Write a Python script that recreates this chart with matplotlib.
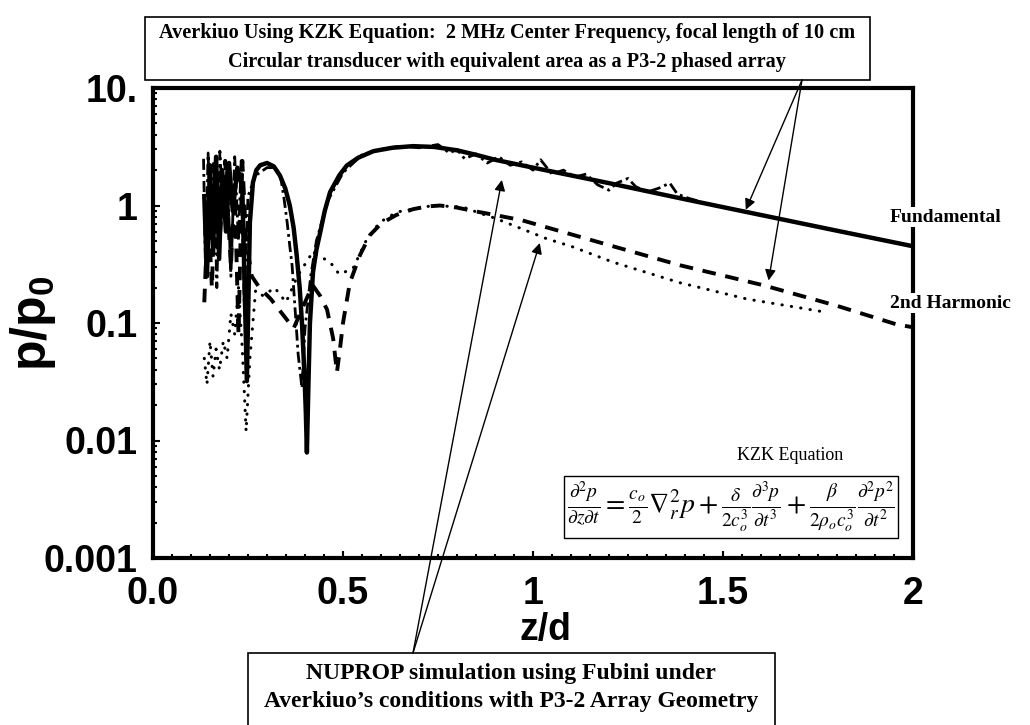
import matplotlib
matplotlib.use('Agg')
import matplotlib.pyplot as plt
from matplotlib.patches import Rectangle
from matplotlib.ticker import MultipleLocator, LogLocator, NullFormatter

plt.rcParams['font.family'] = ['Liberation Sans', 'DejaVu Sans']
plt.rcParams['mathtext.fontset'] = 'custom'
plt.rcParams['mathtext.rm'] = 'Liberation Sans:bold'
plt.rcParams['mathtext.it'] = 'Liberation Sans:bold'
plt.rcParams['mathtext.bf'] = 'Liberation Sans:bold'

# Averkiuo KZK, fundamental (solid)
kzk_fund_x = [0.135, 0.142, 0.150, 0.158, 0.166, 0.174, 0.182, 0.192, 0.200, 0.210,
              0.222, 0.235, 0.247, 0.255, 0.263, 0.272, 0.282, 0.300, 0.318, 0.334,
              0.348, 0.360, 0.370, 0.378, 0.386, 0.392, 0.398, 0.402, 0.405, 0.409,
              0.413, 0.421, 0.430, 0.440, 0.452, 0.466, 0.490, 0.510, 0.540, 0.580,
              0.630, 0.684, 0.740, 0.800, 0.850, 0.900, 1.000, 1.200, 1.400, 1.600,
              1.800, 2.000]
kzk_fund_y = [1.2, 0.25, 2.2, 0.4, 2.6, 0.35, 2.0, 0.6, 2.3, 0.9,
              2.1, 1.4, 0.032, 0.72, 1.57, 2.0, 2.2, 2.3, 2.15, 1.8,
              1.4, 1.0, 0.65, 0.38, 0.2, 0.10, 0.04, 0.018, 0.0079, 0.03,
              0.10, 0.27, 0.42, 0.59, 0.9, 1.3, 1.8, 2.19, 2.55, 2.9,
              3.1, 3.2, 3.15, 2.95, 2.7, 2.45, 2.1, 1.55, 1.13, 0.83,
              0.61, 0.45]

# Averkiuo KZK, 2nd harmonic (dashed)
kzk_harm_x = [0.135, 0.145, 0.155, 0.165, 0.175, 0.190, 0.205, 0.215, 0.225, 0.235,
              0.245, 0.260, 0.280, 0.310, 0.340, 0.370, 0.400, 0.420, 0.440, 0.458,
              0.474, 0.484, 0.492, 0.500, 0.518, 0.545, 0.571, 0.600, 0.640, 0.684,
              0.720, 0.755, 0.800, 0.834, 0.900, 0.970, 1.200, 1.387, 1.605, 1.800,
              1.958, 2.000]
kzk_harm_y = [0.15, 1.0, 0.2, 2.0, 0.5, 2.4, 0.3, 1.5, 0.08, 2.4,
              0.5, 0.25, 0.2, 0.16, 0.12, 0.09, 0.15, 0.21, 0.17, 0.13,
              0.074, 0.038, 0.06, 0.10, 0.22, 0.38, 0.56, 0.70, 0.83, 0.93,
              0.98, 1.0, 0.96, 0.91, 0.83, 0.75, 0.46, 0.31, 0.21, 0.14,
              0.097, 0.092]

# NUPROP, fundamental (noisy dash-dot)
nup_fund_x = [0.133, 0.138, 0.145, 0.152, 0.160, 0.168, 0.176, 0.185, 0.195, 0.205,
              0.215, 0.225, 0.232, 0.240, 0.250, 0.270, 0.300, 0.318, 0.334, 0.344,
              0.353, 0.360, 0.366, 0.374, 0.382, 0.392, 0.400, 0.415, 0.430, 0.460,
              0.500, 0.550, 0.600, 0.650, 0.700, 0.750, 0.780, 0.800, 0.820, 0.850,
              0.880, 0.910, 0.940, 0.970, 1.000, 1.020, 1.050, 1.080, 1.110, 1.140,
              1.170, 1.200, 1.220, 1.250, 1.270, 1.300, 1.330, 1.360, 1.380, 1.410,
              1.440]
nup_fund_y = [2.5, 0.3, 2.8, 0.5, 2.4, 0.2, 2.9, 0.8, 2.2, 0.25,
              2.6, 0.5, 2.4, 0.15, 1.2, 1.8, 2.1, 2.1, 1.9, 1.2,
              0.72, 0.45, 0.31, 0.13, 0.054, 0.028, 0.09, 0.25, 0.5, 1.1,
              1.9, 2.7, 3.0, 3.2, 3.1, 3.3, 2.8, 3.0, 2.5, 2.75,
              2.3, 2.6, 2.2, 2.35, 2.0, 2.45, 1.85, 2.0, 1.75, 1.85,
              1.5, 1.35, 1.55, 1.7, 1.45, 1.3, 1.4, 1.55, 1.25, 1.15,
              1.08]

# NUPROP, 2nd harmonic (dotted)
nup_harm_x = [0.135, 0.142, 0.150, 0.158, 0.166, 0.175, 0.185, 0.195, 0.205, 0.215,
              0.225, 0.235, 0.245, 0.255, 0.270, 0.290, 0.320, 0.350, 0.380, 0.420,
              0.466, 0.490, 0.526, 0.563, 0.597, 0.642, 0.737, 0.816, 0.860, 0.900,
              1.037, 1.100, 1.210, 1.387, 1.563, 1.755]
nup_harm_y = [0.05, 0.03, 0.07, 0.035, 0.06, 0.04, 0.07, 0.05, 0.12, 0.08,
              0.2, 0.06, 0.012, 0.05, 0.19, 0.17, 0.2, 0.15, 0.25, 0.40,
              0.33, 0.26, 0.29, 0.52, 0.72, 0.88, 1.0, 0.97, 0.86, 0.78,
              0.52, 0.45, 0.33, 0.22, 0.16, 0.126]

x_ticks = [0.0, 0.5, 1.0, 1.5, 2.0]
x_tick_labels = ['0.0', '0.5', '1', '1.5', '2']
y_ticks = [0.001, 0.01, 0.1, 1, 10]
y_tick_labels = ['0.001', '0.01', '0.1', '1', '10.']

top_lines = ['Averkiuo Using KZK Equation:  2 MHz Center Frequency, focal length of 10 cm',
             'Circular transducer with equivalent area as a P3-2 phased array']
bottom_lines = ['NUPROP simulation using Fubini under',
                'Averkiuo\u2019s conditions with P3-2 Array Geometry']

W, H = 1030, 725
fig = plt.figure(figsize=(W / 100, H / 100), dpi=100)


def fx(px):
    return px / W


def fy(py):
    return 1 - py / H


ax = fig.add_axes([fx(153), fy(558), (913 - 153) / W, (558 - 88) / H])
ax.set_yscale('log')
ax.set_xlim(0, 2)
ax.set_ylim(0.001, 10)

ax.plot(nup_harm_x, nup_harm_y, color='k', lw=2.2, linestyle=(0, (0.1, 3.0)),
        dash_capstyle='round')
ax.plot(nup_fund_x, nup_fund_y, color='k', lw=2.0, linestyle=(0, (4, 1.5, 1, 1.5)))
ax.plot(kzk_harm_x, kzk_harm_y, color='k', lw=2.8, linestyle=(0, (3.5, 2.5)))
ax.plot(kzk_fund_x, kzk_fund_y, color='k', lw=3.2)

for s in ax.spines.values():
    s.set_linewidth(3)

ax.set_xticks(x_ticks)
ax.set_xticklabels(x_tick_labels)
ax.set_yticks(y_ticks)
ax.set_yticklabels(y_tick_labels)
ax.xaxis.set_minor_locator(MultipleLocator(0.05))
ax.yaxis.set_minor_locator(LogLocator(base=10, subs=range(2, 10)))
ax.yaxis.set_minor_formatter(NullFormatter())
ax.tick_params(which='both', direction='in', width=1.5, top=False, right=False)
ax.tick_params(which='major', length=5)
ax.tick_params(which='minor', length=3)
ax.tick_params(axis='x', labelsize=27, pad=13)
ax.tick_params(axis='y', labelsize=27, pad=11)
for lbl in ax.get_xticklabels() + ax.get_yticklabels():
    lbl.set_fontweight('bold')

fig.text(fx(545), fy(630), 'z/d', fontsize=27, fontweight='bold', ha='center', va='center')
fig.text(fx(33), fy(323), r'p/p$_{0}$', fontsize=36, fontweight='bold', rotation=90,
         ha='center', va='center')

serif = ['Liberation Serif', 'DejaVu Serif']

# top caption box
fig.patches.append(Rectangle((fx(145), fy(80)), fx(870) - fx(145), fy(17) - fy(80),
                             transform=fig.transFigure, fill=False, lw=1.2, color='k'))
fig.text(fx(507), fy(33), top_lines[0], family=serif, fontsize=14.6, fontweight='bold',
         ha='center', va='center')
fig.text(fx(507), fy(62), top_lines[1], family=serif, fontsize=14.6, fontweight='bold',
         ha='center', va='center')

# bottom caption box
fig.patches.append(Rectangle((fx(248), fy(730)), fx(775) - fx(248), fy(653) - fy(730),
                             transform=fig.transFigure, fill=False, lw=1.2, color='k'))
fig.text(fx(511), fy(673), bottom_lines[0], family=serif, fontsize=17, fontweight='bold',
         ha='center', va='center')
fig.text(fx(511), fy(702), bottom_lines[1], family=serif, fontsize=17, fontweight='bold',
         ha='center', va='center')

# curve labels at the right edge
fig.text(fx(890), fy(217), 'Fundamental', family=serif, fontsize=14, fontweight='bold',
         ha='left', va='center', bbox=dict(facecolor='white', edgecolor='none', pad=1))
fig.text(fx(890), fy(303), '2nd Harmonic', family=serif, fontsize=14, fontweight='bold',
         ha='left', va='center', bbox=dict(facecolor='white', edgecolor='none', pad=1))

# KZK equation inset
fig.text(fx(790), fy(455), 'KZK Equation', family=serif, fontsize=13, ha='center', va='center')
eq = (r'$\frac{\partial^2 p}{\partial z\partial t}=\frac{c_o}{2}\nabla_r^2 p+'
      r'\frac{\delta}{2c_o^3}\frac{\partial^3 p}{\partial t^3}+'
      r'\frac{\beta}{2\rho_o c_o^3}\frac{\partial^2 p^2}{\partial t^2}$')
fig.text(fx(731), fy(507), eq, math_fontfamily='stix', fontsize=20, ha='center', va='center',
         bbox=dict(facecolor='white', edgecolor='k', lw=1, boxstyle='square,pad=0.12'))

arrow = dict(arrowstyle='-|>', color='k', lw=1, mutation_scale=16, shrinkA=0, shrinkB=0)
for tip in [(1.56, 0.92), (1.62, 0.23)]:
    ax.annotate('', xy=tip, xycoords='data', xytext=(fx(802), fy(80)),
                textcoords='figure fraction', arrowprops=arrow, annotation_clip=False)
for tip in [(0.918, 1.65), (1.018, 0.48)]:
    ax.annotate('', xy=tip, xycoords='data', xytext=(fx(413), fy(653)),
                textcoords='figure fraction', arrowprops=arrow, annotation_clip=False)

fig.savefig('out.png', dpi=100)
